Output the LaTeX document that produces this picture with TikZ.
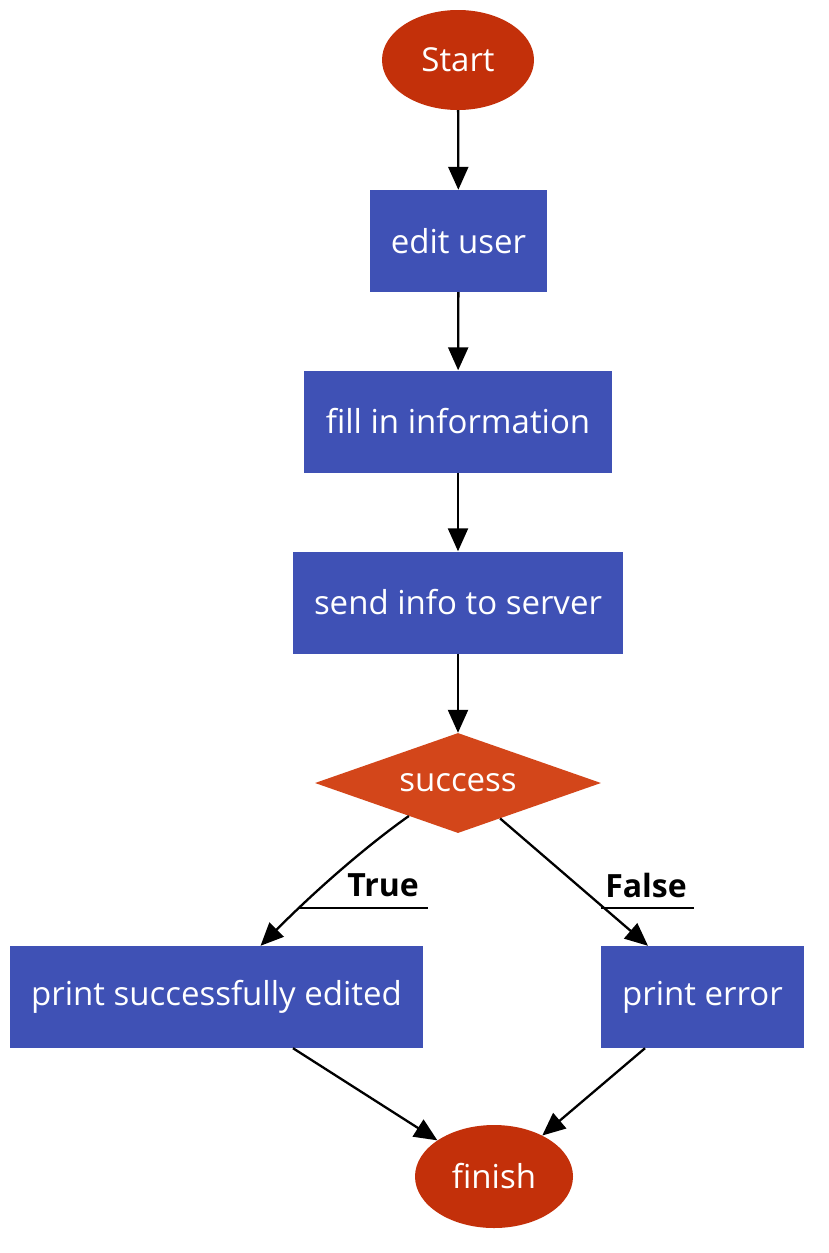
\documentclass[tikz,border=0pt]{standalone}
\usepackage{fontspec}
\setmainfont{Open Sans}
\usetikzlibrary{shapes.geometric,arrows.meta,calc}
\definecolor{termred}{HTML}{C3300A}
\definecolor{boxblue}{HTML}{3F51B5}
\definecolor{decorange}{HTML}{D3461A}
\begin{document}
\begin{tikzpicture}[x=1pt,y=-1pt,
  lbl/.style={font=\fontsize{33}{40}\selectfont},
  term/.style={ellipse,fill=termred,text=white,inner sep=0pt,lbl},
  stepbox/.style={rectangle,fill=boxblue,text=white,inner sep=0pt,minimum height=102pt,lbl},
  decision/.style={diamond,fill=decorange,inner sep=0pt,minimum width=286pt,minimum height=100pt},
  edge/.style={line width=2.3pt,-{Triangle[length=23pt,width=20pt]}},
  elabel/.style={font=\fontsize{32}{38}\selectfont\bfseries}
]
\useasboundingbox (0,0) rectangle (828,1253);
\node[term,minimum width=152pt,minimum height=100pt] (start) at (458,60) {Start};
\node[stepbox,minimum width=177pt] (edit) at (458.5,241) {edit user};
\node[stepbox,minimum width=308pt] (fill) at (458,421.5) {fill in information};
\node[stepbox,minimum width=330pt] (send) at (458,602.5) {send info to server};
\node[decision,label={[lbl,text=white]center:success}] (success) at (458,783) {};
\node[stepbox,minimum width=413pt] (psucc) at (216.5,997) {print successfully edited};
\node[stepbox,minimum width=203pt] (perror) at (702.5,997) {print error};
\node[term,minimum width=158pt,minimum height=103pt] (finish) at (494,1176.5) {finish};

\draw[edge] (start) -- (edit);
\draw[edge] (edit) -- (fill);
\draw[edge] (fill) -- (send);
\draw[edge] (send) -- (success);

\coordinate (tstart) at ($(success.west)!0.657!(success.south)$);
\coordinate (fstart) at ($(success.south)!0.294!(success.east)$);
\draw[edge] (tstart) .. controls (372,842) and (322,884) .. ([xshift=44pt]psucc.north);
\draw[edge] (fstart) -- ([xshift=-54.5pt]perror.north);

\node[elabel] (tlabel) at (383,885) {True};
\node[elabel] (flabel) at (646,885) {False};
\coordinate (tl1) at (298,908);
\coordinate (tl2) at (428,908);
\coordinate (fl1) at (601,908);
\coordinate (fl2) at (694,908);
\draw[line width=2.2pt] (tl1) -- (tl2);
\draw[line width=2.2pt] (fl1) -- (fl2);

\draw[edge] ([xshift=76.5pt]psucc.south) -- (finish);
\draw[edge] ([xshift=-57.5pt]perror.south) -- (finish);
\end{tikzpicture}
\end{document}
